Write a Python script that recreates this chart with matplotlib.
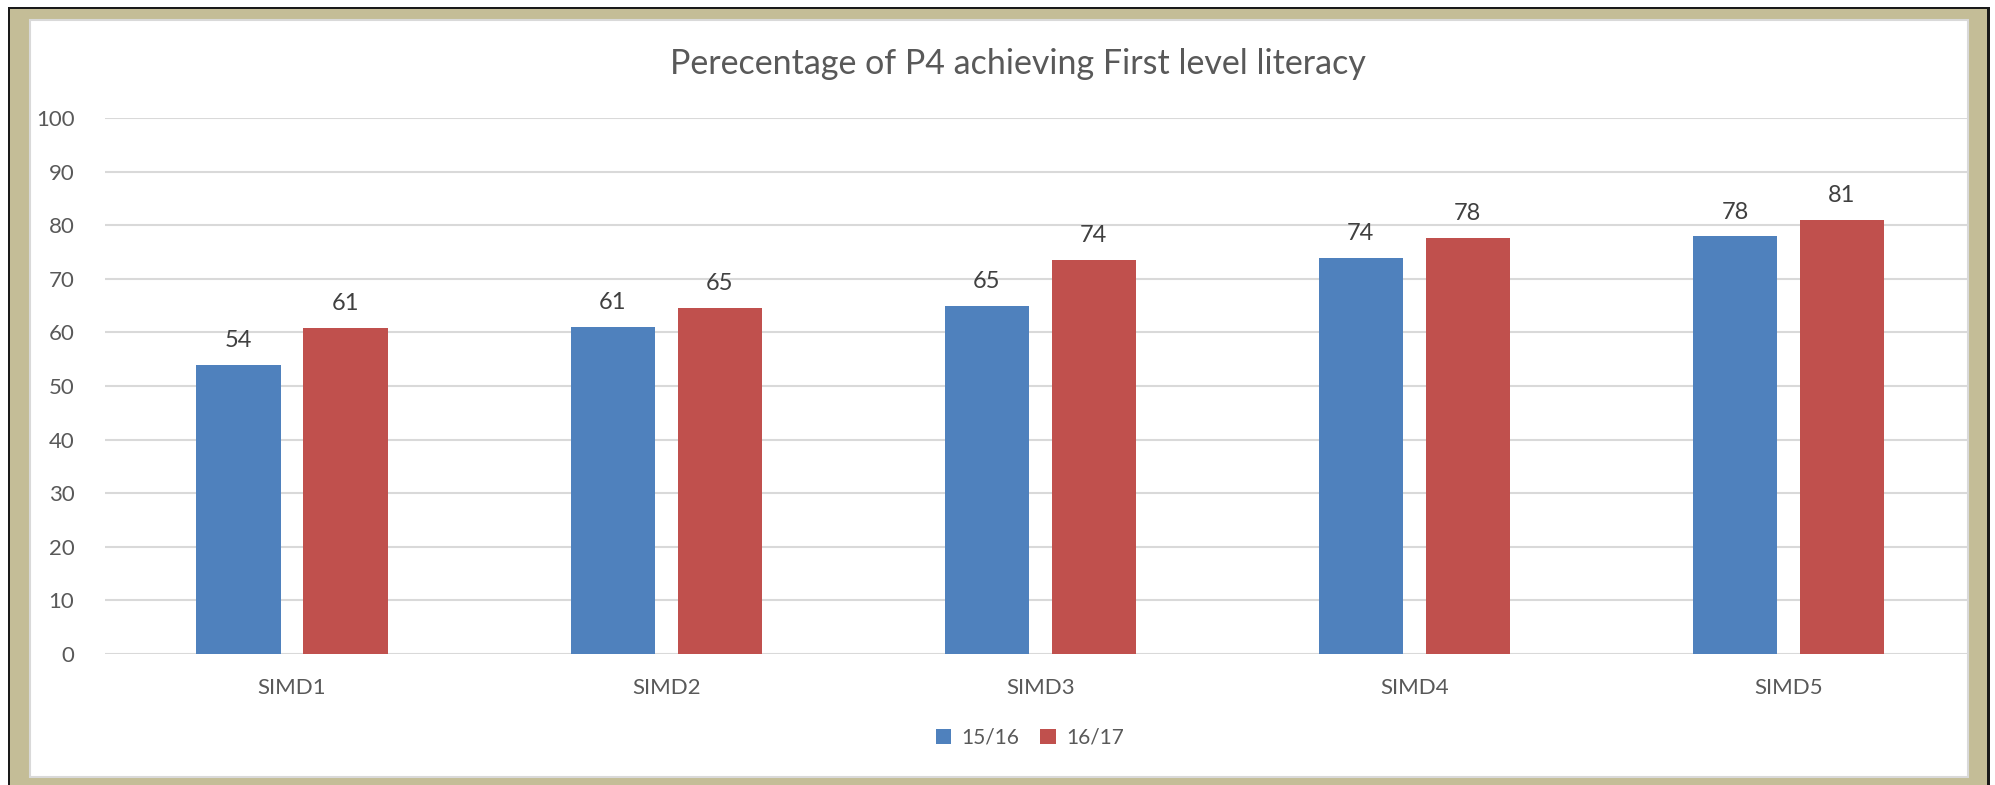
import numpy as np
import matplotlib.pyplot as plt
from matplotlib.patches import Rectangle

categories = ['SIMD1', 'SIMD2', 'SIMD3', 'SIMD4', 'SIMD5']
series_names = ['15/16', '16/17']
values_1516 = [54.0, 61.0, 65.0, 73.9, 77.9]
values_1617 = [60.8, 64.6, 73.6, 77.6, 81.0]
yticks = [0, 10, 20, 30, 40, 50, 60, 70, 80, 90, 100]

blue = '#4F81BD'
red = '#C0504D'
text_col = '#595959'
grid_col = '#D9D9D9'
tan = '#C4BD97'

plt.rcParams['font.family'] = ['Lato', 'DejaVu Sans']

W, H = 1995, 785
fig = plt.figure(figsize=(W / 100, H / 100), dpi=100)
fig.patch.set_facecolor('white')

# frame: dark outline, tan band, white panel
fig.patches.append(Rectangle((8 / W, 0), 1982 / W, (H - 7) / H, transform=fig.transFigure,
                             facecolor='#1a1a1a', edgecolor='none', zorder=-3))
fig.patches.append(Rectangle((10 / W, 0), 1977 / W, (H - 9) / H, transform=fig.transFigure,
                             facecolor=tan, edgecolor='none', zorder=-2))
fig.patches.append(Rectangle((30 / W, (H - 777) / H), 1938 / W, 757 / H, transform=fig.transFigure,
                             facecolor='white', edgecolor='#D9D9D9', linewidth=1.5, zorder=-1))

ax = fig.add_axes([105 / W, (H - 654) / H, 1863 / W, 536 / H])
ax.set_facecolor('none')

x = np.arange(len(categories))
bw = 0.225
off = 0.143
b1 = ax.bar(x - off, values_1516, bw, color=blue, label=series_names[0], zorder=2)
b2 = ax.bar(x + off, values_1617, bw, color=red, label=series_names[1], zorder=2)

for bars in (b1, b2):
    for b in bars:
        ax.annotate('%.0f' % b.get_height(), (b.get_x() + b.get_width() / 2, b.get_height()),
                    xytext=(0, 10), textcoords='offset points', ha='center', va='bottom',
                    fontsize=17, color='#404040')

ax.set_xlim(-0.5, len(categories) - 0.5 - 0.02)
ax.set_ylim(0, 100)
ax.set_yticks(yticks)
ax.set_xticks(x)
ax.set_xticklabels(categories)
ax.yaxis.grid(True, color=grid_col, linewidth=1.5, zorder=0)
ax.set_axisbelow(True)
for s in ax.spines.values():
    s.set_visible(False)
ax.tick_params(axis='both', length=0, labelsize=16, labelcolor=text_col)
ax.tick_params(axis='y', pad=22)
ax.tick_params(axis='x', pad=17)

fig.text(1018 / W, 1 - 64 / H, 'Perecentage of P4 achieving First level literacy',
         ha='center', va='center', fontsize=24.5, color=text_col, fontweight='normal')

fig.legend(handles=[b1, b2], labels=series_names, loc='center', bbox_to_anchor=(1030 / W, 1 - 738 / H),
           ncol=2, frameon=False, fontsize=15, labelcolor=text_col, handlelength=0.75,
           handleheight=0.75, handletextpad=0.5, columnspacing=1.0)

fig.savefig('out.png', dpi=100)
